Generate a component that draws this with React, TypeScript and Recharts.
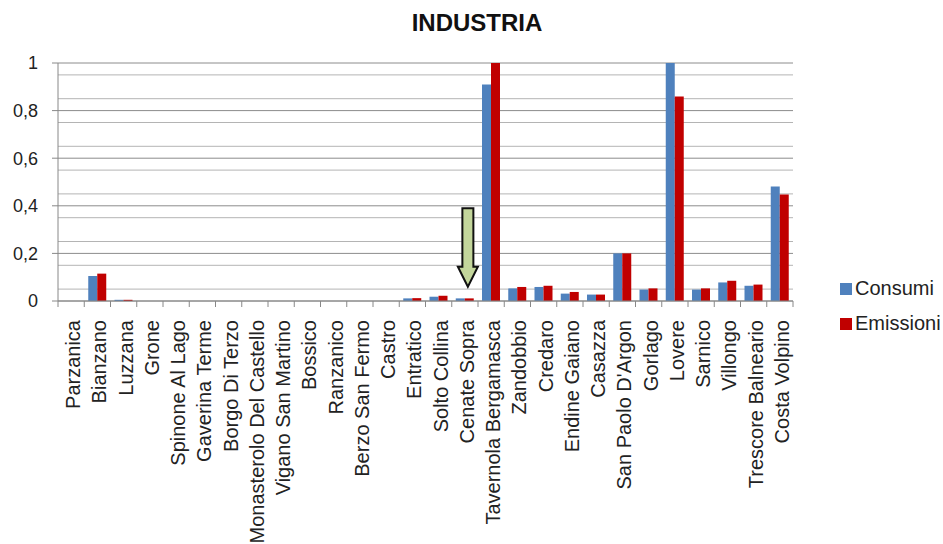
import { Bar, BarChart, CartesianGrid, ReferenceLine, XAxis, YAxis } from "recharts"

const comuni = [
  "Parzanica",
  "Bianzano",
  "Luzzana",
  "Grone",
  "Spinone Al Lago",
  "Gaverina Terme",
  "Borgo Di Terzo",
  "Monasterolo Del Castello",
  "Vigano San Martino",
  "Bossico",
  "Ranzanico",
  "Berzo San Fermo",
  "Castro",
  "Entratico",
  "Solto Collina",
  "Cenate Sopra",
  "Tavernola Bergamasca",
  "Zandobbio",
  "Credaro",
  "Endine Gaiano",
  "Casazza",
  "San Paolo D'Argon",
  "Gorlago",
  "Lovere",
  "Sarnico",
  "Villongo",
  "Trescore Balneario",
  "Costa Volpino",
]

const consumi = [
  0, 0.105, 0.005, 0, 0, 0, 0, 0, 0, 0, 0, 0, 0, 0.011, 0.018, 0.011,
  0.91, 0.053, 0.059, 0.031, 0.027, 0.2, 0.048, 1, 0.048, 0.078, 0.064, 0.481,
]

const emissioni = [
  0, 0.115, 0.005, 0, 0, 0, 0, 0, 0, 0, 0, 0, 0, 0.012, 0.022, 0.011,
  1, 0.059, 0.064, 0.038, 0.027, 0.2, 0.053, 0.859, 0.053, 0.085, 0.069, 0.448,
]

const yTicks = [0, 0.2, 0.4, 0.6, 0.8, 1]
const minorGrid = [0.05, 0.1, 0.15, 0.25, 0.3, 0.35, 0.45, 0.5, 0.55, 0.65, 0.7, 0.75, 0.85, 0.9, 0.95]

// green arrow pointing at Cenate Sopra
const arrowComune = "Cenate Sopra"
const arrowFrom = 0.39
const arrowTo = 0.06

const BLUE = "#4f81bd"
const RED = "#c00000"
const FONT = "'Liberation Sans', Arial, sans-serif"

const data = comuni.map((name, i) => ({
  name,
  Consumi: consumi[i],
  Emissioni: emissioni[i],
}))

function CategoryTick(props: any) {
  const { x, y, payload } = props
  const half = 735 / comuni.length / 2
  return (
    <g>
      <line x1={x - half} y1={y} x2={x - half} y2={y + 6} stroke="#888" />
      {payload.index === comuni.length - 1 && (
        <line x1={x + half} y1={y} x2={x + half} y2={y + 6} stroke="#888" />
      )}
      <text
        x={0}
        y={0}
        transform={`translate(${x + 9},${y + 19}) rotate(-90)`}
        textAnchor="end"
        fontSize={20}
        fontFamily={FONT}
        fill="#222"
      >
        {payload.value}
      </text>
    </g>
  )
}

function Arrow(props: any) {
  const { x1, y1, y2 } = props
  if (x1 == null) return null
  const cx = x1 + 3
  const head = 20
  const shaft = 5.5
  const wing = 10
  const d = `M${cx - shaft},${y1} L${cx + shaft},${y1} L${cx + shaft},${y2 - head} L${cx + wing},${y2 - head} L${cx},${y2} L${cx - wing},${y2 - head} L${cx - shaft},${y2 - head} Z`
  return <path d={d} fill="#c3d69b" stroke="#111" strokeWidth={2} />
}

const legendItems = [
  { label: "Consumi", color: BLUE },
  { label: "Emissioni", color: RED },
]

export default function App() {
  return (
    <div style={{ position: "absolute", left: 0, top: 0, width: 943, height: 544, background: "#fff" }}>
      <BarChart
        width={943}
        height={544}
        data={data}
        margin={{ top: 63, right: 150, left: 0, bottom: 0 }}
        barGap={0}
        barSize={9}
      >
        <CartesianGrid vertical={false} horizontalValues={minorGrid} stroke="#b4b4b4" />
        <CartesianGrid vertical={false} horizontalValues={yTicks} stroke="#8c8c8c" />
        <XAxis
          dataKey="name"
          interval={0}
          height={243}
          tick={<CategoryTick />}
          tickLine={false}
          tickSize={0}
          tickMargin={0}
          axisLine={{ stroke: "#888" }}
        />
        <YAxis
          domain={[0, 1]}
          ticks={yTicks}
          width={58}
          tickSize={6}
          tickLine={{ stroke: "#888" }}
          axisLine={{ stroke: "#888" }}
          tickFormatter={(v) => String(v).replace(".", ",")}
          tick={{ fontSize: 18, fontFamily: FONT, fill: "#222" }}
          tickMargin={14}
        />
        <Bar dataKey="Consumi" fill={BLUE} isAnimationActive={false} />
        <Bar dataKey="Emissioni" fill={RED} isAnimationActive={false} />
        <ReferenceLine
          segment={[
            { x: arrowComune, y: arrowFrom },
            { x: arrowComune, y: arrowTo },
          ]}
          shape={<Arrow />}
        />
      </BarChart>
      <div
        style={{
          position: "absolute",
          left: 0,
          width: 954,
          top: 9,
          textAlign: "center",
          fontFamily: FONT,
          fontWeight: "bold",
          fontSize: 24,
          color: "#111",
        }}
      >
        INDUSTRIA
      </div>
      <div style={{ position: "absolute", left: 840, top: 271, fontFamily: FONT, fontSize: 20, color: "#222" }}>
        {legendItems.map((it) => (
          <div key={it.label} style={{ display: "flex", alignItems: "center", height: 35 }}>
            <span style={{ width: 12, height: 12, background: it.color, marginRight: 3, display: "inline-block" }} />
            {it.label}
          </div>
        ))}
      </div>
    </div>
  )
}
